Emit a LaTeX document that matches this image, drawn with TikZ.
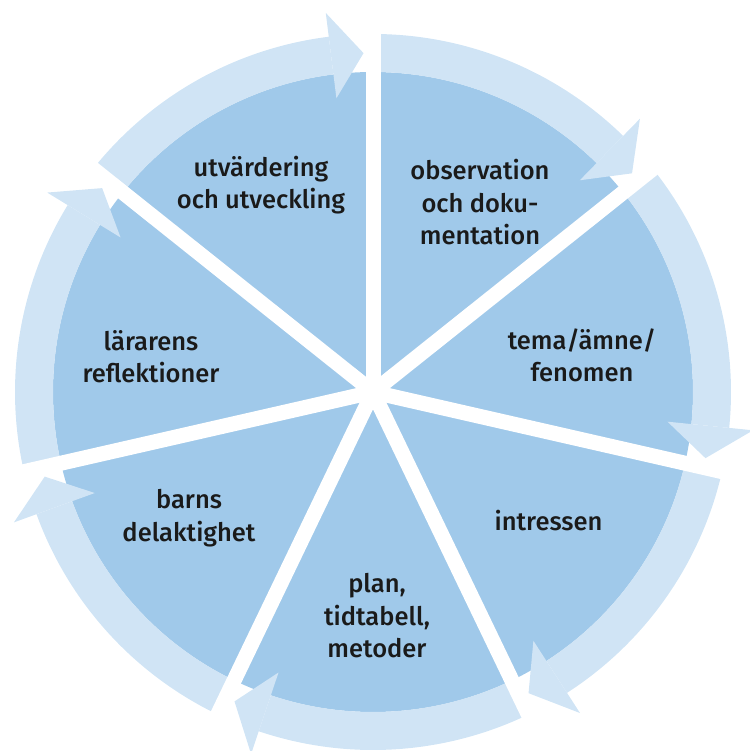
\documentclass[tikz,border=0pt]{standalone}
\usepackage{fontspec}
\setmainfont{Fira Sans}[UprightFont=* Medium]
\usepackage{xcolor}
\usepackage{tikz}
\usetikzlibrary{positioning,calc}

\definecolor{pieblue}{HTML}{A0C9EA}
\definecolor{ringblue}{HTML}{D0E4F5}
\definecolor{txt}{HTML}{1A1A1A}

\tikzset{
    ringband/.style={fill=ringblue},
    spoke/.style={draw=white, line width=15pt},
    lbl/.style={text=txt, align=center, font=\fontsize{25.5}{32.5}\selectfont}
}

\begin{document}
\begin{tikzpicture}[x=1pt, y=1pt]
    \useasboundingbox (-373,-359) rectangle (376,392);

    % inner disc
    \fill[pieblue] (0,0) circle[radius=320];

    % ring segments with arrow heads (clockwise)
    \foreach \i in {0,...,6} {
        \pgfmathsetmacro{\sa}{90-\i*360/7}
        \pgfmathsetmacro{\tip}{\sa-360/7+1.6}
        \pgfmathsetmacro{\hb}{\tip+5.5}
        \fill[ringband] (\sa:320) arc[start angle=\sa, end angle=\hb, radius=320]
            -- (\hb:358) arc[start angle=\hb, end angle=\sa, radius=358] -- cycle;
        \fill[ringband] (\hb:296) -- (\tip:339) -- (\hb:382) -- cycle;
    }

    % white gaps
    \foreach \i in {0,...,6}
        \draw[spoke] (0,0) -- ({90-\i*360/7}:390);

    % labels
    \node[lbl] (utv)  at (-112,207)  {utvärdering\\och utveckling};
    \node[lbl] (obs)  at (107,189.5) {observation\\och doku-\\mentation};
    \node[lbl] (tema) at (209,36.5)  {tema/ämne/\\fenomen};
    \node[lbl] (intr) at (175.5,-129) {intressen};
    \node[lbl] (plan) at (4,-224)    {plan,\\tidtabell,\\metoder};
    \node[lbl] (barn) at (-184,-126) {barns\\delaktighet};
    \node[lbl] (refl) at (-222,35.5) {lärarens\\reflektioner};
\end{tikzpicture}
\end{document}
